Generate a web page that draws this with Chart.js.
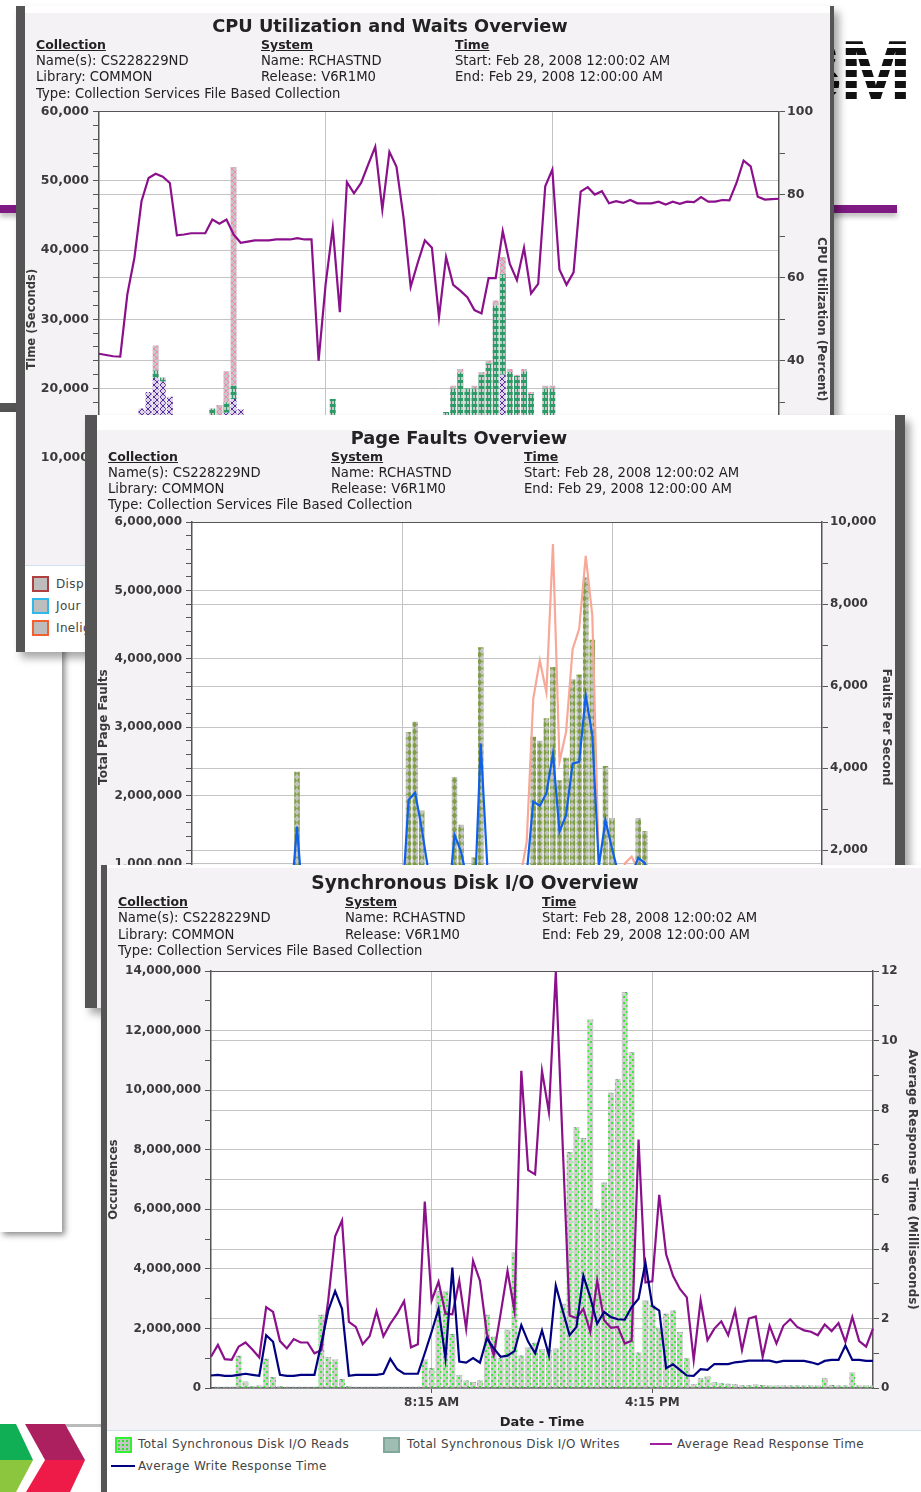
<!DOCTYPE html>
<html>
<head>
<meta charset="utf-8">
<title>Collection Services Overview</title>
<script src="https://cdn.jsdelivr.net/npm/chart.js@4"></script>
<style>
    html, body { margin: 0; padding: 0; background: #fff; }
    body { position: relative; width: 921px; height: 1492px; overflow: hidden; font-family: "DejaVu Sans", sans-serif; color: #222; }
    .abs { position: absolute; }
    .panel { position: absolute; background: #f5f2f6; box-shadow: 5px 6px 8px rgba(0,0,0,0.35); filter: blur(0.4px); }
    .panel canvas { position: absolute; }
    .txt { position: absolute; white-space: nowrap; line-height: 16px; font-size: 13.2px; }
    .title { font-weight: bold; line-height: 22px; transform: translateX(-50%); color: #222; }
    .head { font-weight: bold; font-size: 12.5px; text-decoration: underline; }
    .legend { position: absolute; background: #fff; border-top: 1px solid #cfe0ee; box-sizing: border-box; }
    .legend .txt { color: #444; font-size: 12px; letter-spacing: 0.35px; }
    .swatch { position: absolute; box-sizing: border-box; width: 17px; height: 16px; border: 2px solid #888; background-color: #bdbdbd; }
    .key { position: absolute; height: 2px; }
</style>
</head>
<body>

<!-- slide behind the chart windows -->
<div class="abs" id="ibm" style="left:760px;top:26px;width:146px;height:88px;overflow:hidden;font:bold 86px/88px 'Liberation Sans';letter-spacing:-3px;text-align:right;color:transparent;background:repeating-linear-gradient(#111 0 7px,#fff 7px 11px);-webkit-background-clip:text;background-clip:text;">IBM</div>
<div class="abs" style="left:0;top:205px;width:897px;height:8px;background:#7e1a82;box-shadow:0 4px 5px rgba(0,0,0,0.25);"></div>
<div class="abs" style="left:0;top:403px;width:40px;height:9px;background:#555;"></div>
<div class="abs" style="left:0;top:412px;width:62px;height:820px;background:#fff;box-shadow:3px 3px 6px rgba(0,0,0,0.45);"></div>
<div class="abs" style="left:60px;top:1424px;width:50px;height:3px;background:#bbb;"></div>
<div class="abs" style="left:0;top:1424px;width:33px;height:36px;background:#10ae55;clip-path:polygon(0 0,16px 0,33px 36px,0 36px);"></div>
<div class="abs" style="left:0;top:1460px;width:33px;height:32px;background:#8cc63f;clip-path:polygon(0 0,33px 0,16px 32px,0 32px);"></div>
<div class="abs" style="left:25px;top:1424px;width:60px;height:36px;background:#ad2060;clip-path:polygon(0 0,40px 0,60px 36px,20px 36px);"></div>
<div class="abs" style="left:25px;top:1460px;width:60px;height:32px;background:#ee1a48;clip-path:polygon(20px 0,60px 0,45px 32px,1px 32px);"></div>

<!-- CPU window -->
<div class="panel" id="cpuPanel" style="left:16px;top:6px;width:818px;height:646px;z-index:1;">
    <div class="abs" style="left:0;top:0;width:100%;height:7px;background:#fff;"></div>
    <div class="abs" style="left:0;top:0;width:9px;height:100%;background:#555;"></div>
    <div class="abs" style="right:0;top:0;width:4px;height:100%;background:#555;"></div>
    <canvas id="cpuChart" width="805" height="460" style="left:9px;top:94px;"></canvas>
    <div class="legend" style="left:9px;top:559px;width:805px;height:87px;">
        <div class="swatch" style="left:7px;top:10px;border-color:#b04040;"></div><div class="txt" style="left:31px;top:10px;font-size:12px;">Disp</div>
        <div class="swatch" style="left:7px;top:32px;border-color:#30b8e8;"></div><div class="txt" style="left:31px;top:32px;font-size:12px;">Jour</div>
        <div class="swatch" style="left:7px;top:54px;border-color:#f06030;"></div><div class="txt" style="left:31px;top:54px;font-size:12px;">Inelig</div>
    </div>
</div>

<!-- page faults window -->
<div class="panel" id="faultsPanel" style="left:85px;top:415px;width:820px;height:593px;z-index:2;">
    <div class="abs" style="left:0;top:0;width:100%;height:15px;background:#fff;"></div>
    <div class="abs" style="left:0;top:0;width:12px;height:100%;background:#555;"></div>
    <div class="abs" style="right:0;top:0;width:10px;height:100%;background:#555;"></div>
    <canvas id="faultsChart" width="798" height="452" style="left:12px;top:96px;"></canvas>
</div>

<!-- disk window -->
<div class="panel" id="diskPanel" style="left:101px;top:865px;width:820px;height:627px;z-index:3;">
    <div class="abs" style="left:0;top:0;width:100%;height:3px;background:#fff;"></div>
    <div class="abs" style="left:0;top:0;width:6px;height:100%;background:#555;"></div>
    <canvas id="diskChart" width="814" height="470" style="left:6px;top:95px;"></canvas>
    <div class="legend" style="left:6px;top:565px;width:814px;height:62px;">
        <div class="swatch" style="left:8px;top:6px;border-color:#30f030;background-color:#c4c4c4;background-image:radial-gradient(#30e030 1px,transparent 1px);background-size:4px 4px;"></div>
        <div class="txt" style="left:31px;top:5px;">Total Synchronous Disk I/O Reads</div>
        <div class="swatch" style="left:276px;top:6px;border-color:#7fa89a;background-color:#9fbdb2;"></div>
        <div class="txt" style="left:300px;top:5px;">Total Synchronous Disk I/O Writes</div>
        <div class="key" style="left:543px;top:12px;width:22px;background:#a020a0;"></div>
        <div class="txt" style="left:570px;top:5px;">Average Read Response Time</div>
        <div class="key" style="left:4px;top:34px;width:24px;background:#000080;"></div>
        <div class="txt" style="left:31px;top:27px;">Average Write Response Time</div>
    </div>
</div>

<script>
const tickTimes = ['8:15 AM', '4:15 PM'];

const cpuLattice = [
    0,0,0,0,0,0,17100,19500,21500,21000,
    18800,0,0,0,0,0,16000,15500,16500,18500,
    17000,0,0,0,0,0,0,0,0,0,
    0,0,0,0,0,0,0,0,0,0,
    0,0,0,0,0,0,0,0,0,0,
    0,0,0,0,0,0,0,22000,0,0,
    0,0,0,0,0,0,0,0,0,0,
    0,0,0,0,0,0,0,0,0,0,
    0,0,0,0,0,0,0,0,0,0,
    0,0,0,0,0,0,0
];
const cpuGreen = [
    0,0,0,0,0,0,0,0,1100,600,
    0,0,0,0,0,0,1100,0,1500,1900,
    0,0,0,0,0,0,0,0,0,0,
    0,0,0,18500,0,0,0,0,0,0,
    0,0,0,0,0,0,0,0,0,16600,
    20000,22300,20000,20000,22000,23600,32000,14500,22400,21800,
    22500,19200,0,20000,20000,0,0,0,0,0,
    0,0,0,0,0,0,0,0,0,0,
    0,0,0,0,0,0,0,0,0,0,
    0,0,0,0,0,0,0
];
const cpuPink = [
    0,0,0,0,0,0,0,0,3600,0,
    0,0,0,0,0,0,0,2100,4500,31600,
    0,0,0,0,0,0,0,0,0,0,
    0,0,0,0,0,0,0,0,0,0,
    0,0,0,0,0,0,0,0,0,0,
    400,500,0,400,400,400,700,2500,400,200,
    300,300,0,400,400,0,0,0,0,0,
    0,0,0,0,0,0,0,0,0,0,
    0,0,0,0,0,0,0,0,0,0,
    0,0,0,0,0,0,0
];
const cpuUtilization = [
    41.7,41.4,41.1,41,56,64.8,78.4,84,85,84.3,
    82.8,70.2,70.4,70.7,70.7,70.7,74,73,74,70.4,
    68.4,68.7,69,69,69,69.2,69.2,69.2,69.5,69.2,
    69.2,40,58.5,72,51.7,83,80.3,82.8,87.2,91.5,
    76.4,90.3,86.7,74.4,57.8,63.6,69,67.2,50.5,65,
    58.3,56.9,55.3,52.2,51.4,59.9,59.9,71.2,63.3,59.4,
    67.2,56.2,58.5,82,86,62,58.3,61.3,80.7,81.8,
    80,80.8,77.9,78.4,78,78.7,77.9,77.9,77.9,78.3,
    77.6,78.3,77.8,78.3,78.2,79.4,78.3,78.3,78.7,78.6,
    82.8,88.2,86.8,79.5,78.8,78.9,79
];

const pageFaultTotals = [
    60000,50000,40000,60000,40000,50000,60000,50000,60000,50000,
    50000,60000,50000,60000,50000,120000,2345000,90000,60000,50000,
    60000,50000,60000,50000,40000,50000,60000,50000,60000,50000,
    60000,50000,150000,2930000,3080000,1780000,300000,80000,60000,150000,
    2270000,1570000,300000,1090000,4170000,500000,80000,70000,80000,150000,
    300000,600000,2860000,2800000,3130000,3880000,2220000,2550000,3700000,3770000,
    5190000,4280000,700000,2430000,1670000,900000,600000,500000,1670000,1480000,
    300000,100000,60000,50000,40000,50000,60000,50000,40000,50000,
    60000,50000,40000,50000,40000,50000,60000,50000,40000,50000,
    60000,50000,40000,50000,40000,50000,40000
];
const faultsPerSecond = [
    300,280,260,300,250,260,280,300,310,280,
    290,300,270,280,300,600,2570,500,300,280,
    290,270,300,280,260,300,290,270,300,280,
    290,300,600,3220,3400,2530,1500,400,300,600,
    2370,1960,1200,500,4600,1600,400,350,380,600,
    900,1400,3180,3080,3380,4350,2450,2850,4110,4150,
    5770,4800,1600,2730,2040,1400,1200,1400,1810,1680,
    900,400,300,280,260,300,290,270,260,280,
    300,270,260,280,290,270,260,300,280,270,
    260,280,290,300,270,260,280
];
const databaseFaults = [
    200,190,180,200,170,180,190,200,210,190,
    200,210,180,190,200,300,800,300,200,190,
    200,180,210,190,170,200,190,180,200,190,
    200,210,300,800,900,700,500,300,200,300,
    800,700,500,300,1000,600,300,260,280,500,
    1300,2200,5690,6625,5850,9465,4150,4880,6900,7400,
    9180,7720,1600,1500,1100,1000,1680,1840,1500,1300,
    600,300,200,190,180,200,190,180,170,190,
    200,180,170,190,200,180,170,200,190,180,
    170,190,200,210,180,170,190
];

const diskReads = [
    0,20000,20000,20000,1040000,190000,40000,50000,940000,340000,
    30000,20000,20000,20000,20000,20000,2410000,990000,920000,270000,
    30000,20000,20000,20000,20000,20000,20000,20000,20000,20000,
    20000,920000,640000,3210000,3200000,1770000,410000,220000,170000,220000,
    2420000,1680000,960000,1920000,4510000,1050000,1320000,1480000,1260000,1230000,
    1290000,2790000,7890000,8720000,8360000,12340000,5980000,6860000,9880000,10330000,
    13260000,11240000,1150000,2900000,2760000,1980000,2450000,2560000,1840000,970000,
    100000,300000,360000,160000,140000,110000,100000,60000,60000,90000,
    70000,50000,50000,50000,50000,50000,50000,50000,50000,300000,
    70000,50000,50000,490000,50000,50000,50000
];
const diskWrites = [
    20000,20000,20000,20000,40000,30000,30000,30000,40000,30000,
    30000,20000,20000,20000,20000,20000,50000,40000,40000,30000,
    30000,20000,20000,20000,20000,20000,20000,20000,20000,20000,
    20000,40000,30000,40000,40000,40000,30000,30000,30000,30000,
    40000,40000,40000,40000,40000,40000,40000,40000,40000,40000,
    40000,40000,40000,40000,40000,40000,40000,40000,40000,40000,
    40000,40000,40000,40000,40000,40000,40000,40000,40000,30000,
    30000,30000,30000,30000,30000,30000,30000,30000,30000,30000,
    30000,30000,30000,30000,30000,30000,30000,30000,30000,30000,
    30000,30000,30000,30000,30000,30000,30000
];
const readResponse = [
    0.9,1.24,0.83,0.81,1.19,1.31,1.11,0.88,2.33,2.19,
    1.35,1.14,1.41,1.31,1.31,1,1.09,2.52,4.37,4.82,
    1.9,1.76,1.26,1.49,2.21,1.49,1.85,2.14,2.5,1.17,
    1.26,5.37,2.52,3.06,2.14,2.12,3.09,1.71,3.66,3.09,
    1.57,0.95,2.14,3.37,2.23,9.13,6.27,6.15,9.13,7.94,
    11.98,7,2.09,2.01,2.28,1.62,3.09,1.95,1.73,1.76,
    1.28,1.36,7.15,3.04,3.07,5.56,3.85,3.23,2.85,2.61,
    0.81,2.52,1.38,1.71,1.92,1.52,2.23,1.09,2,2.06,
    0.9,1.79,1.28,1.79,1.98,1.76,1.66,1.62,1.52,1.83,
    1.64,1.87,1.33,2.04,1.35,1.19,1.71
];
const writeResponse = [
    0.36,0.38,0.35,0.35,0.38,0.41,0.38,0.35,1.52,1.33,
    0.38,0.35,0.35,0.38,0.38,0.38,1.28,2.23,2.79,2.28,
    0.35,0.38,0.38,0.38,0.38,0.41,0.84,0.54,0.41,0.41,
    0.41,1,1.62,2.28,0.86,3.47,0.76,0.73,0.86,0.73,
    1.43,1.14,0.9,0.93,1.06,1.81,1.33,1,1.66,0.95,
    2.95,2.23,1.52,1.76,3.23,2.61,1.85,2.19,2.04,1.98,
    1.97,2.33,2.57,3.61,2.36,2.23,0.57,0.68,0.52,0.36,
    0.35,0.54,0.52,0.69,0.69,0.69,0.74,0.76,0.79,0.79,
    0.79,0.79,0.74,0.78,0.78,0.78,0.78,0.74,0.68,0.78,
    0.81,0.81,1.22,0.81,0.81,0.78,0.78
];

// slot 0 is 12:15 AM, samples every 15 minutes
const timeLabels = cpuUtilization.map(function(v, i) {
    const mins = (15 + i * 15) % 1440;
    const h = Math.floor(mins / 60);
    const m = mins % 60;
    return (h % 12 || 12) + ':' + String(m).padStart(2, '0') + (h < 12 ? ' AM' : ' PM');
});

const infoRows = [
    ['Collection', 'System', 'Time'],
    ['Name(s): CS228229ND', 'Name: RCHASTND', 'Start: Feb 28, 2008 12:00:02 AM'],
    ['Library: COMMON', 'Release: V6R1M0', 'End: Feb 29, 2008 12:00:00 AM'],
    ['Type: Collection Services File Based Collection']
];

document.addEventListener('DOMContentLoaded', function() {
    addHeader('cpuPanel', 16, 6, 'CPU Utilization and Waits Overview', 17.8, 390, 26, [36, 261, 455], [45, 61, 77, 94]);
    addHeader('faultsPanel', 85, 415, 'Page Faults Overview', 17.8, 459, 438, [108, 331, 524], [457, 473, 489, 505]);
    addHeader('diskPanel', 101, 865, 'Synchronous Disk I/O Overview', 18.6, 475, 883, [118, 345, 542], [902, 918, 935, 951]);

    initializeCpuChart();
    initializeFaultsChart();
    initializeDiskChart();
});

// Title and info block of one window
function addHeader(panelId, panelX, panelY, title, titleSize, titleX, titleY, cols, rows) {
    const panel = document.getElementById(panelId);
    const t = document.createElement('div');
    t.className = 'txt title';
    t.textContent = title;
    t.style.fontSize = titleSize + 'px';
    t.style.left = (titleX - panelX) + 'px';
    t.style.top = (titleY - panelY - 11) + 'px';
    panel.appendChild(t);

    infoRows.forEach(function(row, r) {
        row.forEach(function(text, c) {
            const el = document.createElement('div');
            el.className = r === 0 ? 'txt head' : 'txt';
            el.textContent = text;
            el.style.left = (cols[c] - panelX) + 'px';
            el.style.top = (rows[r] - panelY - 8) + 'px';
            panel.appendChild(el);
        });
    });
}

// Small repeating tile used as a bar fill
function makeTile(w, h, base, paint) {
    const c = document.createElement('canvas');
    c.width = w;
    c.height = h;
    const g = c.getContext('2d');
    g.fillStyle = base;
    g.fillRect(0, 0, w, h);
    paint(g);
    return g.createPattern(c, 'repeat');
}

function crossTile(base, stroke) {
    return makeTile(6, 6, base, function(g) {
        g.strokeStyle = stroke;
        g.lineWidth = 1;
        g.beginPath();
        g.moveTo(0, 0); g.lineTo(6, 6);
        g.moveTo(6, 0); g.lineTo(0, 6);
        g.stroke();
    });
}

const whitePlot = {
    id: 'whitePlot',
    beforeDraw: function(chart) {
        const a = chart.chartArea;
        chart.ctx.fillStyle = '#fff';
        chart.ctx.fillRect(a.left, a.top, a.right - a.left, a.bottom - a.top);
    }
};

function yAxis(side, spec) {
    return {
        position: side,
        min: 0,
        max: spec.max,
        stacked: side === 'left',
        afterFit: function(scale) { scale.width = spec.width; },
        border: { color: '#555', width: 1.5 },
        grid: {
            tickLength: 6,
            tickColor: '#555',
            color: function(ctx) {
                if (!ctx.tick) return 'transparent';
                if (ctx.tick.value === spec.max) return '#555';
                return ctx.tick.value % spec.major === 0 ? '#c4c4c4' : 'transparent';
            }
        },
        ticks: {
            stepSize: spec.step,
            autoSkip: false,
            padding: side === 'left' ? 4 : 2,
            color: '#3a3a3a',
            font: { family: 'DejaVu Sans', size: spec.fontSize, weight: 'bold' },
            callback: function(value) {
                if (value === 0 && spec.skipZero) return '';
                return value % spec.major === 0 ? value.toLocaleString('en-US') : '';
            }
        },
        title: {
            display: true,
            text: spec.title,
            color: '#3a3a3a',
            padding: { top: side === 'left' ? 0 : 2, bottom: 0 },
            font: { family: 'DejaVu Sans', size: spec.titleSize, weight: 'bold' }
        }
    };
}

function xAxis(height) {
    return {
        stacked: true,
        offset: false,
        afterFit: function(scale) { scale.height = height; },
        afterBuildTicks: function(axis) {
            axis.ticks = axis.ticks.filter(function(t) {
                return tickTimes.includes(axis.getLabelForValue(t.value));
            });
        },
        border: { color: '#555', width: 1.5 },
        grid: { offset: false, color: '#c4c4c4', tickColor: '#555', tickLength: 5 },
        ticks: { autoSkip: false, maxRotation: 0, color: '#3a3a3a', padding: 3, font: { family: 'DejaVu Sans', size: 12, weight: 'bold' } },
        title: { display: true, text: 'Date - Time', color: '#222', padding: 0, font: { family: 'DejaVu Sans', size: 13, weight: 'bold' } }
    };
}

function barSet(label, data, fill) {
    return { type: 'bar', label: label, data: data, backgroundColor: fill, yAxisID: 'y', stack: 'total', barPercentage: 0.84, categoryPercentage: 1, borderWidth: 0, order: 5 };
}

function lineSet(label, data, color, order) {
    return { type: 'line', label: label, data: data, borderColor: color, borderWidth: 2.2, pointRadius: 0, tension: 0, yAxisID: 'y1', order: order };
}

function makeChart(canvasId, datasets, left, right, paddingTop, xHeight) {
    new Chart(document.getElementById(canvasId), {
        type: 'bar',
        data: { labels: timeLabels, datasets: datasets },
        options: {
            responsive: false,
            animation: false,
            layout: { padding: { top: paddingTop } },
            plugins: { legend: { display: false }, tooltip: { enabled: false } },
            scales: { x: xAxis(xHeight), y: yAxis('left', left), y1: yAxis('right', right) }
        },
        plugins: [whitePlot]
    });
}

// CPU Utilization and Waits
function initializeCpuChart() {
    const lattice = crossTile('#dcd4e8', '#5a2ca0');
    const green = makeTile(6, 6, '#2e9a68', function(g) {
        g.fillStyle = '#c8c8c8';
        g.fillRect(1, 1, 2, 3);
        g.fillRect(4, 1, 2, 3);
    });
    const pink = crossTile('#c6c6c6', '#f08ab0');

    makeChart('cpuChart', [
        lineSet('CPU Utilization', cpuUtilization, '#8b108b', 0),
        barSet('Disp', cpuLattice, lattice),
        barSet('Wait', cpuGreen, green),
        barSet('Inelig', cpuPink, pink)
    ], { max: 60000, step: 2000, major: 10000, title: 'Time (Seconds)', width: 74, fontSize: 12.5, titleSize: 11.6, skipZero: true },
       { max: 100, step: 10, major: 20, title: 'CPU Utilization (Percent)', width: 51, fontSize: 12.5, titleSize: 11.7 }, 10, 33);
}

// Page Faults
function initializeFaultsChart() {
    const olive = makeTile(5, 7, '#c4c4c4', function(g) {
        g.fillStyle = '#7f9e45';
        g.beginPath();
        g.moveTo(2.5, 0); g.lineTo(5, 3.5); g.lineTo(2.5, 7); g.lineTo(0, 3.5);
        g.fill();
    });

    makeChart('faultsChart', [
        lineSet('Faults Per Second', faultsPerSecond, '#1060e8', 0),
        lineSet('Database Faults', databaseFaults, '#f8a898', 1),
        barSet('Total Page Faults', pageFaultTotals, olive)
    ], { max: 6000000, step: 200000, major: 1000000, title: 'Total Page Faults', width: 95, fontSize: 12, titleSize: 12 },
       { max: 10000, step: 1000, major: 2000, title: 'Faults Per Second', width: 73, fontSize: 12, titleSize: 11.5 }, 10, 31);
}

// Synchronous Disk I/O
function initializeDiskChart() {
    const dotted = makeTile(6, 6, '#cfd0cb', function(g) {
        g.fillStyle = '#38ea38';
        g.fillRect(0, 0, 2, 2);
        g.fillRect(3, 3, 2, 2);
    });
    const teal = crossTile('#c0c0c0', '#5f9a88');

    makeChart('diskChart', [
        lineSet('Average Write Response Time', writeResponse, '#000080', 0),
        lineSet('Average Read Response Time', readResponse, '#8b108b', 1),
        barSet('Total Synchronous Disk I/O Reads', diskReads, dotted),
        barSet('Total Synchronous Disk I/O Writes', diskWrites, teal)
    ], { max: 14000000, step: 1000000, major: 2000000, title: 'Occurrences', width: 104, fontSize: 12, titleSize: 11.5 },
       { max: 12, step: 1, major: 2, title: 'Average Response Time (Milliseconds)', width: 48, fontSize: 12, titleSize: 12 }, 7, 42);
}
</script>
</body>
</html>
